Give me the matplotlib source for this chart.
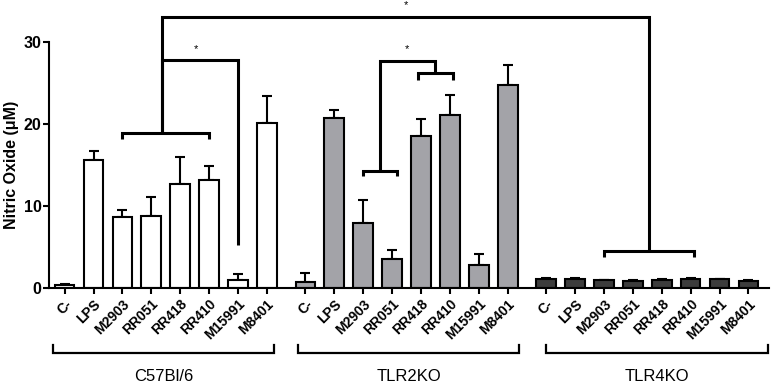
import numpy as np
import matplotlib
matplotlib.use("Agg")
import matplotlib.pyplot as plt

plt.rcParams['font.family'] = ['Liberation Sans', 'DejaVu Sans']

# treatments and mouse strains
treatments = ['C-', 'LPS', 'M2903', 'RR051', 'RR418', 'RR410', 'M15991', 'M8401']
strains = ['C57Bl/6', 'TLR2KO', 'TLR4KO']

# nitric oxide (uM), mean and upper error
c57_mean = [0.37, 15.6, 8.7, 8.8, 12.7, 13.2, 0.98, 20.1]
c57_err = [0.12, 1.1, 0.85, 2.3, 3.3, 1.7, 0.7, 3.3]
tlr2_mean = [0.69, 20.7, 7.9, 3.6, 18.6, 21.1, 2.8, 24.8]
tlr2_err = [1.2, 1.0, 2.9, 1.0, 2.0, 2.5, 1.3, 2.4]
tlr4_mean = [1.1, 1.1, 0.95, 0.85, 1.0, 1.15, 1.05, 0.85]
tlr4_err = [0.15, 0.15, 0.08, 0.08, 0.15, 0.1, 0.08, 0.1]

means = [c57_mean, tlr2_mean, tlr4_mean]
errs = [c57_err, tlr2_err, tlr4_err]
colors = ['white', '#a3a3a8', '#3c3c3c']

fig = plt.figure(figsize=(7.71, 3.85), dpi=100)
ax = fig.add_axes([0.0636, 0.2519, 0.9339, 0.6382])

step = 8 + 1 / 3.0
ticks = []
labels = []
for g in range(3):
    x = np.arange(8) + g * step
    m = np.array(means[g])
    e = np.array(errs[g])
    ax.bar(x, m, width=0.68, color=colors[g], edgecolor='black', linewidth=1.5, zorder=2)
    ax.errorbar(x, m, yerr=[np.zeros(8), e], fmt='none', ecolor='black',
                elinewidth=1.5, capsize=3.6, capthick=1.5, zorder=1)
    ticks += list(x)
    labels += treatments

ax.set_xlim(-0.54, 24.38)
ax.set_ylim(0, 30)
ax.set_yticks([0, 10, 20, 30])
ax.set_xticks(ticks)
ax.set_xticklabels(labels, rotation=45, ha='right', rotation_mode='anchor',
                   fontsize=10, fontweight='bold')
for t in ax.get_yticklabels():
    t.set_fontweight('bold')
    t.set_fontsize(11.5)
ax.tick_params(axis='both', width=1.5, length=4.5, direction='out')
ax.tick_params(axis='x', pad=2)
ax.tick_params(axis='y', pad=1)
ax.spines['top'].set_visible(False)
ax.spines['right'].set_visible(False)
ax.spines['left'].set_linewidth(1.5)
ax.spines['bottom'].set_linewidth(1.5)
ax.set_ylabel('Nitric Oxide (\u03bcM)', fontsize=11.5, fontweight='bold', labelpad=3)

lw = 2.2
kw = dict(color='black', linewidth=lw, clip_on=False, solid_capstyle='butt',
          solid_joinstyle='miter', zorder=3)


def bracket(x0, x1, y, drop):
    ax.plot([x0, x0, x1, x1], [y - drop, y, y, y - drop], **kw)


# C57 comparison
bracket(2.0, 5.0, 18.9, 0.7)
ax.plot([3.38, 3.38, 6.0, 6.0], [18.9, 27.84, 27.84, 5.3], **kw)
ax.text(4.55, 28.6, '*', ha='center', va='bottom', fontsize=8)

# TLR2KO comparison
bracket(10.32, 11.52, 14.32, 0.6)
bracket(12.22, 13.45, 26.29, 0.9)
ax.plot([10.92, 10.92, 12.83, 12.83], [14.32, 27.75, 27.75, 26.29], **kw)
ax.text(11.85, 28.6, '*', ha='center', va='bottom', fontsize=8)

# TLR4KO vs C57
bracket(18.67, 21.78, 4.52, 0.7)
ax.plot([3.38, 3.38, 20.24, 20.24], [18.9, 33.05, 33.05, 4.52], **kw)
ax.text(11.8, 33.9, '*', ha='center', va='bottom', fontsize=8)

# strain brackets under the axis
spans = [(-0.39, 7.24), (8.09, 15.74), (16.65, 24.35)]
for (a, b), name in zip(spans, strains):
    ax.plot([a, a, b, b], [-6.9, -7.97, -7.97, -6.9], color='black', linewidth=1.6,
            clip_on=False, solid_joinstyle='miter')
    ax.text((a + b) / 2, -10.8, name, ha='center', va='center', fontsize=12)

fig.savefig('out.png', dpi=100)
